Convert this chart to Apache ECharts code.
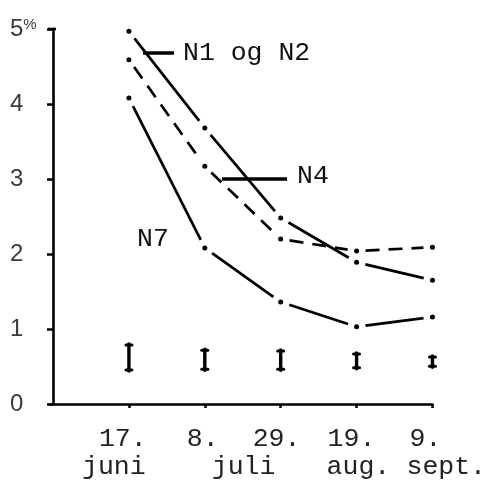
<!DOCTYPE html>
<html><head><meta charset="utf-8">
<script src="https://cdn.jsdelivr.net/npm/echarts@6/dist/echarts.min.js"></script>
<style>html,body{margin:0;padding:0;background:#fff}#c{width:489px;height:489px}</style>
</head><body><div id="c"></div>
<script>
// ---- data ----
const dayLabels = ['17.', '8.', '29.', '19.', '9.'];
const monthLabels = ['juni', 'juli', 'aug.', 'sept.'];
const xPos = [1, 2, 3, 4, 5];
const yTickLabels = ['0', '1', '2', '3', '4', '5%'];
const n1n2 = [4.97, 3.68, 2.48, 1.89, 1.65];
const n4 = [4.59, 3.17, 2.20, 2.04, 2.09];
const n7 = [4.08, 2.08, 1.36, 1.03, 1.16];
const errLow = [0.44, 0.45, 0.45, 0.47, 0.49];
const errHigh = [0.80, 0.73, 0.72, 0.68, 0.64];
const seriesNames = ['N1 og N2', 'N4', 'N7'];

// ---- layout (typewriter label placement, px offsets from the tick they belong to) ----
const MONO = 'Liberation Mono, DejaVu Sans Mono, monospace';
const SANS = 'Liberation Sans, Arial, sans-serif';
const TYPE_SIZE = 26.5;
const X_MIN = -0.04, X_MAX = 5, GRID_L = 50, GRID_R = 56, W = 489;
const PX_PER_UNIT = (W - GRID_L - GRID_R) / (X_MAX - X_MIN);
const dayOffsetPx = [-30, -18, -28, -29, -23];
const monthTick = [1, 2, 4, 5];
const monthOffsetPx = [-47, 7, -30, -26];
const round4 = v => Math.round(v * 10000) / 10000;
const dayVals = xPos.map((x, i) => round4(x + dayOffsetPx[i] / PX_PER_UNIT));
const monthVals = monthTick.map((x, i) => round4(x + monthOffsetPx[i] / PX_PER_UNIT));
const nearestIdx = (vals, v) => { let b = 0; vals.forEach((u, i) => { if (Math.abs(u - v) < Math.abs(vals[b] - v)) b = i; }); return b; };

const chart = echarts.init(document.getElementById('c'), null, { renderer: 'canvas' });

// Each line: segments between consecutive points, broken open around every point,
// with a small dot on the point itself (as in the typed original).
const GAP = 9;
const lineSeries = (name, arr, dash) => ({
  name, type: 'custom', z: 3, silent: true,
  data: arr.slice(0, -1).map((v, i) => [xPos[i], v, xPos[i + 1], arr[i + 1], i === arr.length - 2 ? 1 : 0]),
  encode: { x: [0, 2], y: [1, 3] },
  renderItem: (params, api) => {
    const a = api.coord([api.value(0), api.value(1)]);
    const b = api.coord([api.value(2), api.value(3)]);
    const dx = b[0] - a[0], dy = b[1] - a[1], len = Math.hypot(dx, dy);
    const ux = dx / len, uy = dy / len;
    const children = [
      { type: 'line', shape: { x1: a[0] + ux * GAP, y1: a[1] + uy * GAP, x2: b[0] - ux * GAP, y2: b[1] - uy * GAP },
        style: { stroke: '#000', lineWidth: 2.7, lineDash: dash || null, lineCap: 'butt' } },
      { type: 'circle', shape: { cx: a[0], cy: a[1], r: 2.5 }, style: { fill: '#000' } }
    ];
    if (api.value(4) === 1) children.push({ type: 'circle', shape: { cx: b[0], cy: b[1], r: 2.5 }, style: { fill: '#000' } });
    return { type: 'group', children };
  }
});
const baseX = { type: 'value', min: X_MIN, max: X_MAX, position: 'bottom', splitLine: { show: false } };
const labelCommon = { verticalAlign: 'top', align: 'left', interval: 0, showMinLabel: true, showMaxLabel: true, hideOverlap: false,
  fontFamily: MONO, fontSize: TYPE_SIZE, color: '#222' };

chart.setOption({
  animation: false,
  backgroundColor: '#fff',
  grid: { left: GRID_L, right: GRID_R, top: 29, bottom: 85, containLabel: false },
  xAxis: [
    Object.assign({}, baseX, {
      axisLine: { lineStyle: { color: '#000', width: 2.6 } },
      axisTick: { show: true, customValues: xPos, length: 4, lineStyle: { color: '#000', width: 2.5 } },
      axisLabel: Object.assign({}, labelCommon, { customValues: dayVals, margin: 21,
        formatter: v => dayLabels[nearestIdx(dayVals, v)] })
    }),
    Object.assign({}, baseX, {
      axisLine: { show: false }, axisTick: { show: false },
      axisLabel: Object.assign({}, labelCommon, { customValues: monthVals, margin: 49,
        formatter: v => monthLabels[nearestIdx(monthVals, v)] })
    })
  ],
  yAxis: {
    type: 'value', min: 0, max: 5, interval: 1,
    splitLine: { show: false },
    axisLine: { lineStyle: { color: '#000', width: 2.6 } },
    axisTick: { length: 6, lineStyle: { color: '#000', width: 2.5 } },
    axisLabel: {
      align: 'left', margin: 40, color: '#3a3a3a', fontFamily: SANS, fontSize: 24,
      showMinLabel: true, showMaxLabel: true,
      formatter: v => { const s = yTickLabels[v]; return s.endsWith('%') ? s.slice(0, -1) + '{p|%}' : s; },
      rich: {
        p: { fontSize: 15, color: '#3a3a3a', fontFamily: SANS, verticalAlign: 'top', padding: [0, 0, 8, 0] }
      }
    }
  },
  series: [
    lineSeries(seriesNames[0], n1n2, null),
    lineSeries(seriesNames[1], n4, [14, 9]),
    lineSeries(seriesNames[2], n7, null),
    {
      type: 'custom', z: 5, silent: true,
      data: xPos.map((x, i) => [x, errLow[i], errHigh[i]]),
      encode: { x: 0, y: [1, 2] },
      renderItem: (params, api) => {
        const x = api.value(0);
        const lo = api.coord([x, api.value(1)]);
        const hi = api.coord([x, api.value(2)]);
        return { type: 'group', children: [
          { type: 'line', shape: { x1: lo[0], y1: lo[1], x2: hi[0], y2: hi[1] }, style: { stroke: '#000', lineWidth: 3.4, lineCap: 'round' } },
          { type: 'line', shape: { x1: hi[0] - 3, y1: hi[1] + 1, x2: hi[0] + 3, y2: hi[1] + 1 }, style: { stroke: '#000', lineWidth: 3, lineCap: 'round' } },
          { type: 'line', shape: { x1: lo[0] - 3, y1: lo[1] - 1, x2: lo[0] + 3, y2: lo[1] - 1 }, style: { stroke: '#000', lineWidth: 3, lineCap: 'round' } }
        ] };
      }
    }
  ],
  graphic: [
    { type: 'line', shape: { x1: 48, y1: 29, x2: 56, y2: 29 }, style: { stroke: '#000', lineWidth: 2.6 }, z: 10 },
    { type: 'line', shape: { x1: 143, y1: 53, x2: 174, y2: 53 }, style: { stroke: '#000', lineWidth: 3.5 }, z: 10 },
    { type: 'text', x: 183, y: 53, style: { text: seriesNames[0], font: TYPE_SIZE + 'px ' + MONO, fill: '#111', textVerticalAlign: 'middle' }, z: 10 },
    { type: 'line', shape: { x1: 222, y1: 179, x2: 287, y2: 179 }, style: { stroke: '#000', lineWidth: 3.5 }, z: 10 },
    { type: 'text', x: 297, y: 176, style: { text: seriesNames[1], font: TYPE_SIZE + 'px ' + MONO, fill: '#111', textVerticalAlign: 'middle' }, z: 10 },
    { type: 'text', x: 137, y: 239, style: { text: seriesNames[2], font: TYPE_SIZE + 'px ' + MONO, fill: '#111', textVerticalAlign: 'middle' }, z: 10 }
  ]
});
</script></body></html>
